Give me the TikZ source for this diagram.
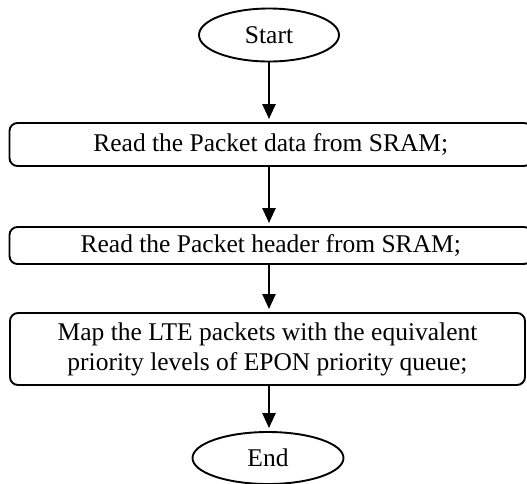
\documentclass[tikz,border=0pt]{standalone}
\usepackage{fontspec}
\setmainfont{Liberation Serif}
\usetikzlibrary{arrows.meta,shapes.geometric}

\tikzset{
  terminal/.style={ellipse, draw, line width=1.9pt, inner sep=0pt,
    font=\fontsize{25.5}{30}\selectfont},
  procbox/.style={rectangle, draw, line width=1.9pt, rounded corners=8pt,
    inner sep=0pt, align=center, font=\fontsize{25.5}{30}\selectfont},
  flow/.style={line width=2.4pt, shorten >=3pt,
    -{Triangle[width=13pt,length=15pt]}}
}

\begin{document}
\begin{tikzpicture}[x=1pt,y=-1pt]
  \useasboundingbox (0,0) rectangle (527,483);

  % terminals
  \node[terminal, minimum width=140pt, minimum height=53pt] (start) at (269,35) {Start};
  \node[terminal, minimum width=151pt, minimum height=52pt] (end) at (268,458) {End};

  % process steps (the first two run past the right margin)
  \node[procbox, minimum width=522.5pt, minimum height=43pt] (read1) at (270.75,144.5)
    {Read the Packet data from SRAM;};
  \node[procbox, minimum width=522.5pt, minimum height=37pt] (read2) at (270.75,245.5)
    {Read the Packet header from SRAM;};
  \node[procbox, minimum width=515pt, minimum height=72pt] (map) at (267.5,349)
    {Map the LTE packets with the equivalent\\priority levels of EPON priority queue;};

  % connectors
  \draw[flow] (start.south) -- (start.south |- read1.north);
  \draw[flow] (start.south |- read1.south) -- (start.south |- read2.north);
  \draw[flow] (start.south |- read2.south) -- (start.south |- map.north);
  \draw[flow] (start.south |- map.south) -- (start.south |- end.north);
\end{tikzpicture}
\end{document}
